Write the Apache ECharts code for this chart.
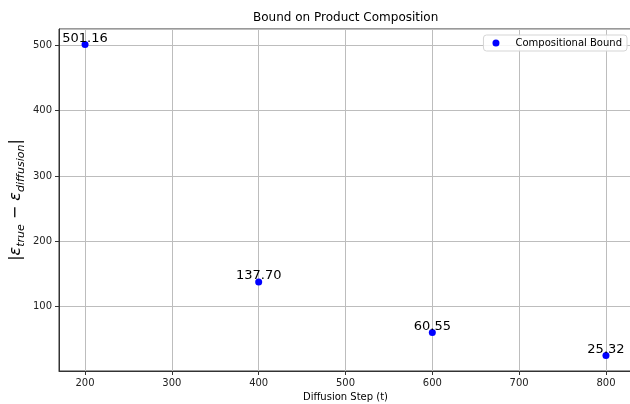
<!DOCTYPE html>
<html>
<head>
<meta charset="utf-8">
<script src="https://cdn.jsdelivr.net/npm/echarts@6/dist/echarts.min.js"></script>
<style>
  html, body { margin: 0; padding: 0; background: #fff; }
  #chart { width: 630px; height: 404px; }
</style>
</head>
<body>
<div id="chart"></div>
<script>
const steps = [200, 400, 600, 800]
const bounds = [501.16, 137.70, 60.55, 25.32]
const seriesName = 'Compositional Bound'

const font = 'DejaVu Sans'
const chart = echarts.init(document.getElementById('chart'))

chart.setOption({
  animation: false,
  textStyle: { fontFamily: font },
  title: {
    text: 'Bound on Product Composition',
    left: 253,
    top: 12,
    padding: 0,
    textStyle: { fontSize: 12, fontWeight: 'normal', color: '#000', fontFamily: font },
  },
  grid: {
    left: 59, right: -2, top: 29, bottom: 33,
    outerBoundsMode: 'none',
    containLabel: false,
    show: true, borderColor: '#333', borderWidth: 1,
  },
  legend: {
    data: [seriesName],
    right: 3,
    top: 35,
    icon: 'circle',
    itemWidth: 7,
    itemHeight: 7,
    padding: [3, 5, 3, 9],
    borderColor: '#d5d5d5',
    borderWidth: 1,
    borderRadius: 3,
    backgroundColor: 'rgba(255,255,255,0.85)',
    formatter: '{a|{name}}',
    textStyle: {
      fontSize: 10, color: '#000', fontFamily: font,
      rich: { a: { fontSize: 10, padding: [0, 0, 0, 11], fontFamily: font, color: '#000' } },
    },
  },
  xAxis: {
    type: 'value',
    min: 170,
    max: 830,
    splitNumber: 6,
    name: 'Diffusion Step (t)',
    nameLocation: 'middle',
    nameGap: 21,
    nameMoveOverlap: false,
    nameTextStyle: { fontSize: 10, color: '#000', fontFamily: font },
    axisLine: { lineStyle: { color: '#333' } },
    axisTick: { length: 4, lineStyle: { color: '#333' } },
    axisLabel: { fontSize: 10, color: '#222', margin: 7, showMinLabel: false, showMaxLabel: false },
    splitLine: { lineStyle: { color: '#bdbdbd', width: 1 } },
  },
  yAxis: {
    type: 'value',
    min: 1.53,
    max: 524.95,
    splitNumber: 5,
    name: '{b||}{e|ε}{s|true}{b| − }{e|ε}{s|diffusion}{b||}',
    nameLocation: 'middle',
    nameGap: 32,
    nameRotate: 90,
    nameMoveOverlap: false,
    nameTextStyle: {
      color: '#000',
      rich: {
        b: { fontSize: 16, color: '#000', fontFamily: font, lineHeight: 22 },
        e: { fontSize: 16, color: '#000', fontFamily: font, fontStyle: 'italic', lineHeight: 22 },
        s: { fontSize: 11, color: '#000', fontFamily: font, fontStyle: 'italic', lineHeight: 22, verticalAlign: 'bottom', padding: [6, 0, 0, 0] },
      },
    },
    axisLine: { show: true, lineStyle: { color: '#333' } },
    axisTick: { show: true, length: 4, lineStyle: { color: '#333' } },
    axisLabel: { fontSize: 10, color: '#222', margin: 7, showMinLabel: false, showMaxLabel: false },
    splitLine: { lineStyle: { color: '#bdbdbd', width: 1 } },
  },
  series: [
    {
      type: 'scatter',
      name: seriesName,
      data: steps.map((s, i) => [s, bounds[i]]),
      symbol: 'circle',
      symbolSize: 7,
      itemStyle: { color: '#0000ff', opacity: 1 },
      label: {
        show: true,
        position: 'top',
        distance: -4,
        fontSize: 13,
        color: '#000',
        textBorderWidth: 0,
        fontFamily: font,
        formatter: (p) => p.value[1].toFixed(2),
      },
    },
  ],
})
</script>
</body>
</html>
